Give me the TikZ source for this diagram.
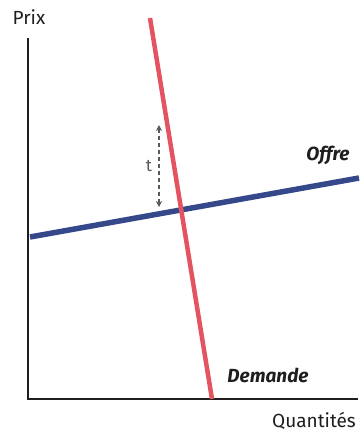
\documentclass[tikz,border=0pt]{standalone}
\usepackage{fontspec}
\setmainfont{Fira Sans}
\usetikzlibrary{arrows.meta}
\definecolor{dred}{RGB}{228,84,96}
\definecolor{sblue}{RGB}{52,72,138}
\definecolor{axisc}{RGB}{30,30,30}
\begin{document}
\begin{tikzpicture}[x=1pt,y=-1pt,
  axis/.style={draw=axisc,line width=1.4pt},
  lbl/.style={font=\fontsize{19}{22}\selectfont,text=axisc,inner sep=0pt},
  curvelbl/.style={font=\fontsize{19}{22}\selectfont\bfseries\itshape,text=axisc,inner sep=0pt}]
\useasboundingbox (0,0) rectangle (363,432);
\coordinate (O) at (28,399);
\coordinate (Ytop) at (28,38);
\coordinate (Xend) at (358,399);
\draw[axis] (Ytop) -- (O) -- (Xend);
\node[lbl] (prix) at (29,17) {Prix};
\node[lbl] (quant) at (314,421) {Quantités};
\coordinate (o1) at (30,237);
\coordinate (o2) at (359,178);
\draw[sblue,line width=5.5pt] (o1) -- (o2);
\coordinate (d1) at (150,18);
\coordinate (d2) at (212,399);
\draw[dred,line width=4.5pt] (d1) -- (d2);
\node[curvelbl] (offre) at (328,155) {Offre};
\node[curvelbl] (dem) at (268,375) {Demande};
\coordinate (t1) at (159,125);
\coordinate (t2) at (159,207);
\draw[gray!70!black,line width=1.2pt,dash pattern=on 4pt off 3pt,{Stealth[length=6pt,width=6pt]}-{Stealth[length=6pt,width=6pt]}] (t1) -- (t2);
\node[lbl,font=\fontsize{17}{20}\selectfont,text=gray!70!black] (t) at (149,166) {t};
\end{tikzpicture}
\end{document}
